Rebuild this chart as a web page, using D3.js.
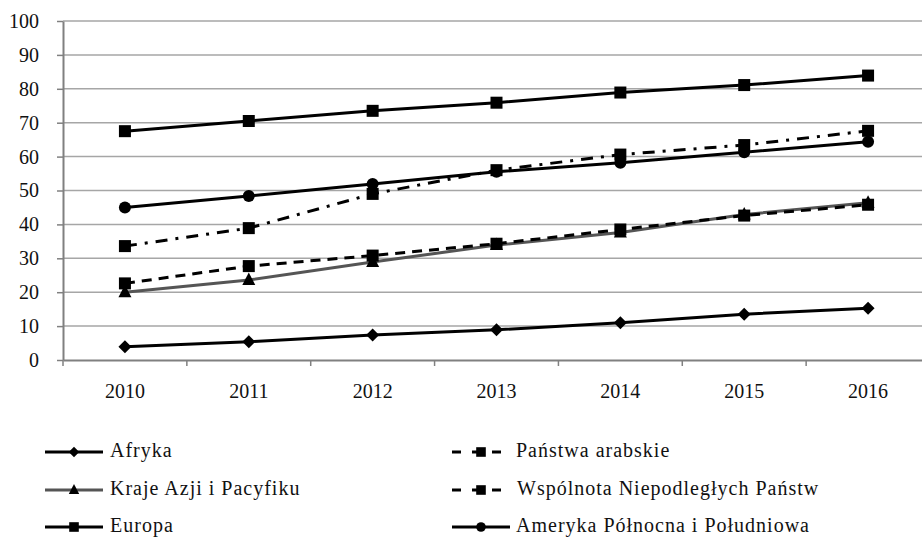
<!DOCTYPE html>
<html>
<head>
<meta charset="utf-8">
<style>
  body { margin: 0; background: #fff; }
  svg text { font-family: "Liberation Serif", "DejaVu Serif", serif; fill: #111; }
</style>
</head>
<body>
<svg id="chart" width="922" height="537"></svg>
<script src="https://cdn.jsdelivr.net/npm/d3@7"></script>
<script>
// data
var years = ['2010', '2011', '2012', '2013', '2014', '2015', '2016']
var yTicks = [0, 10, 20, 30, 40, 50, 60, 70, 80, 90, 100]

var afryka = [3.9, 5.4, 7.4, 8.9, 11.0, 13.5, 15.3]
var azja = [20.0, 23.6, 28.9, 33.9, 37.6, 42.9, 46.4]
var arabskie = [22.6, 27.7, 30.8, 34.3, 38.5, 42.6, 45.8]
var wnp = [33.6, 38.9, 49.0, 56.0, 60.6, 63.4, 67.6]
var europa = [67.5, 70.5, 73.5, 75.9, 78.9, 81.1, 83.9]
var ameryka = [45.0, 48.4, 51.9, 55.5, 58.2, 61.3, 64.4]

var series = [
  { name: 'Afryka', values: afryka, color: '#000', dash: null, marker: 'diamond' },
  { name: 'Kraje Azji i Pacyfiku', values: azja, color: '#555', dash: null, marker: 'triangle' },
  { name: 'Europa', values: europa, color: '#000', dash: null, marker: 'square' },
  { name: 'Państwa arabskie', values: arabskie, color: '#000', dash: '10,7', marker: 'square' },
  { name: 'Wspólnota Niepodległych Państw', values: wnp, color: '#000', dash: '12,8,3,8', marker: 'square' },
  { name: 'Ameryka Północna i Południowa', values: ameryka, color: '#000', dash: null, marker: 'circle' }
]

var svg = d3.select('#chart')
var mLeft = 63, mRight = 930, mTop = 21, mBottom = 360

var x = d3.scaleBand().domain(years).range([mLeft, mRight])
var y = d3.scaleLinear().domain([0, 100]).range([mBottom, mTop])

// gridlines
svg.append('g')
  .selectAll('line')
  .data(yTicks.slice(1))
  .enter().append('line')
  .attr('x1', mLeft).attr('x2', mRight)
  .attr('y1', function(d) { return y(d) }).attr('y2', function(d) { return y(d) })
  .attr('stroke', '#a6a6a6').attr('stroke-width', 1.5)

// y axis
var yAxis = svg.append('g')
  .attr('transform', 'translate(' + mLeft + ',0)')
  .call(d3.axisLeft(y).tickValues(yTicks).tickSize(6).tickPadding(18).tickSizeOuter(0))
yAxis.select('.domain').attr('stroke', '#808080').attr('stroke-width', 2)
yAxis.selectAll('.tick line').attr('stroke', '#808080').attr('stroke-width', 1.5)
yAxis.selectAll('text').style('font-size', '20px').attr('fill', '#111')

// x axis (ticks between categories)
var xAxis = svg.append('g')
  .attr('transform', 'translate(0,' + mBottom + ')')
  .call(d3.axisBottom(x).tickSize(0).tickPadding(24).tickSizeOuter(0))
xAxis.select('.domain').attr('stroke', '#808080').attr('stroke-width', 2)
xAxis.selectAll('text').style('font-size', '20px').attr('fill', '#111')
xAxis.selectAll('line.sep')
  .data(years)
  .enter().append('line')
  .attr('class', 'sep')
  .attr('x1', function(d) { return x(d) }).attr('x2', function(d) { return x(d) })
  .attr('y1', 0).attr('y2', 6)
  .attr('stroke', '#808080').attr('stroke-width', 1.5)

var cx = function(i) { return x(years[i]) + x.bandwidth() / 2 }

// k scales the marker (plot markers a bit bigger than legend ones)
function drawMarker(g, type, px, py, k) {
  if (type === 'square') {
    g.append('rect').attr('x', px - 6 * k).attr('y', py - 6 * k).attr('width', 12 * k).attr('height', 12 * k).attr('fill', '#000')
  } else if (type === 'circle') {
    g.append('circle').attr('cx', px).attr('cy', py).attr('r', 6 * k).attr('fill', '#000')
  } else if (type === 'diamond') {
    g.append('path').attr('d', 'M' + px + ',' + (py - 6.5 * k) + 'L' + (px + 6.5 * k) + ',' + py + 'L' + px + ',' + (py + 6.5 * k) + 'L' + (px - 6.5 * k) + ',' + py + 'Z').attr('fill', '#000')
  } else if (type === 'triangle') {
    g.append('path').attr('d', 'M' + px + ',' + (py - 7.5 * k) + 'L' + (px + 6.5 * k) + ',' + (py + 5 * k) + 'L' + (px - 6.5 * k) + ',' + (py + 5 * k) + 'Z').attr('fill', '#000')
  }
}

var line = d3.line()
  .x(function(d, i) { return cx(i) })
  .y(function(d) { return y(d) })

series.forEach(function(s) {
  var g = svg.append('g')
  g.append('path')
    .datum(s.values)
    .attr('d', line)
    .attr('fill', 'none')
    .attr('stroke', s.color)
    .attr('stroke-width', 3)
    .attr('stroke-dasharray', s.dash)
  s.values.forEach(function(v, i) {
    drawMarker(g, s.marker, cx(i), y(v), 1)
  })
})

// legend
var legendRows = [452, 490, 527]
series.forEach(function(s, i) {
  var col = Math.floor(i / 3), row = i % 3
  var lx = col === 0 ? 45 : 452
  var ly = legendRows[row]
  var g = svg.append('g')
  g.append('line')
    .attr('x1', lx).attr('x2', lx + 58).attr('y1', ly).attr('y2', ly)
    .attr('stroke', s.color).attr('stroke-width', 2.8)
    .attr('stroke-dasharray', s.dash ? '9,11' : null)
  drawMarker(g, s.marker, lx + 29, ly, 0.8)
  g.append('text')
    .attr('x', col === 0 ? 110 : (row === 1 ? 517 : 516))
    .attr('y', ly + 5)
    .style('font-size', '20px')
    .style('letter-spacing', '1px')
    .text(s.name)
})
</script>
</body>
</html>
